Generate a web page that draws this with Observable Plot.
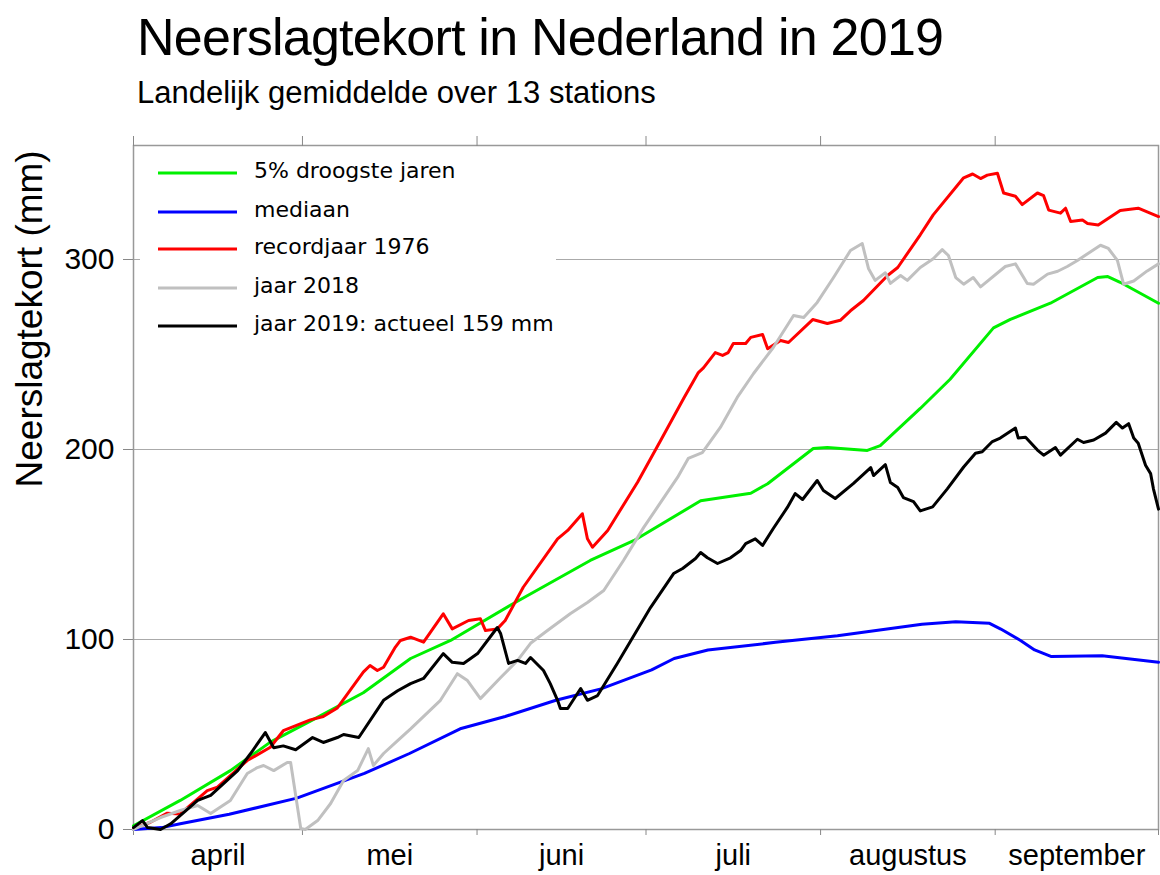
<!DOCTYPE html>
<html><head><meta charset="utf-8">
<script src="https://cdn.jsdelivr.net/npm/d3@7"></script>
<script src="https://cdn.jsdelivr.net/npm/@observablehq/plot@0.6"></script>
<style>
body{margin:0;background:#fff;}
#wrap{position:relative;width:1160px;height:875px;overflow:hidden;font-family:"Liberation Sans",Arial,sans-serif;color:#000;}
#title{position:absolute;left:137px;top:11px;font-size:52px;line-height:52px;letter-spacing:-0.75px;white-space:nowrap;}
#subtitle{position:absolute;left:137px;top:77px;font-size:31px;line-height:31px;white-space:nowrap;}
#chart{position:absolute;left:0;top:120px;}
#legend{position:absolute;left:140px;top:150px;width:416px;height:192px;background:#fff;}
</style></head>
<body><div id="wrap">
<div id="title">Neerslagtekort in Nederland in 2019</div>
<div id="subtitle">Landelijk gemiddelde over 13 stations</div>
<div id="chart"></div>
<div id="legend"></div>
</div>
<script>
// ---- data (days since 1 April 2019, values in mm) ----
const seriesNames = ["5% droogste jaren", "mediaan", "recordjaar 1976", "jaar 2018", "jaar 2019: actueel 159 mm"];
const seriesColors = ["#00f000", "#0000ff", "#ff0000", "#c0c0c0", "#000000"];
const monthNames = ["april", "mei", "juni", "juli", "augustus", "september"];
const monthStartDays = [0, 30, 61, 91, 122, 153];
const lastDay = 182;
const yTicks = [0, 100, 200, 300];

const greenDays = [0, 8.3, 17.2, 24.3, 31.4, 40.8, 49.2, 56.3, 66.9, 81.1, 88.8, 100.7, 109.6, 112.6, 120.7, 123.2, 130.3, 132.6, 139.7, 145, 152.7, 155.7, 162.8, 171.2, 173, 175.2, 182];
const greenVals = [2, 15.3, 31, 46, 57, 72, 90, 99.5, 118, 141.6, 152, 173, 177, 182, 200.5, 201, 199.5, 202, 221.6, 237, 264, 268.5, 277, 290.5, 291, 288, 277];

const blueDays = [0, 5, 8.3, 17, 29, 41, 49, 58, 66, 75, 83, 92, 96, 102, 114, 125, 140, 146, 152, 154, 157.5, 160, 163, 172, 182];
const blueVals = [0, 1, 3, 8, 16.5, 29.5, 40, 53, 59.5, 68, 74, 84, 90, 94.5, 98.5, 102, 108, 109.3, 108.5, 105.5, 99.5, 94.5, 91, 91.4, 88];

const redDays = [0, 3, 6, 8.3, 13.1, 14.9, 20.2, 24.3, 26.6, 31.4, 33.7, 36.2, 40.8, 42, 43.3, 44.4, 46.5, 47.4, 49.2, 51.5, 55, 56.6, 59.5, 61.6, 62.5, 64.6, 66, 69.2, 75.3, 77.1, 79.7, 80.6, 81.5, 84.2, 89.5, 93.6, 97.7, 100.3, 101.2, 103.3, 104.6, 105.6, 106.5, 108.7, 109.6, 111.7, 112.6, 114.9, 116.3, 120.6, 123.2, 125.5, 127.3, 129.6, 133.9, 135.7, 139.7, 142, 147.4, 149, 150.4, 151.6, 153.4, 154.5, 156.6, 157.8, 160.5, 161.6, 162.5, 164.6, 165.5, 166.4, 168.5, 169.4, 171.3, 175.2, 178.4, 182];
const redVals = [0.5, 3.8, 8.6, 8.2, 20.5, 22.3, 36.3, 43.3, 52, 57.7, 59.5, 64, 82.8, 86.3, 83.7, 85.4, 96, 99.5, 101.2, 98.6, 113.5, 105.6, 110, 110.9, 104.7, 105.6, 110, 127.5, 153, 157.4, 166.2, 153, 148.6, 157.4, 182.8, 204.7, 227, 240.5, 243, 251, 249.5, 251, 255.8, 255.8, 259, 260.5, 253, 257.4, 256.3, 268.4, 266.3, 268, 273, 278.4, 291.6, 295.8, 313, 323.5, 343, 345, 342.6, 344.4, 345.4, 335, 333.3, 328.9, 335, 333.6, 326, 324.4, 327, 320, 320.8, 319, 318.2, 325.8, 327, 322.6];

const grayDays = [0, 0.7, 4.8, 8.3, 11.4, 13.7, 17.2, 20.2, 22, 23.1, 24.9, 27.3, 27.9, 29.7, 30.5, 32.7, 35, 37.3, 39.8, 41.7, 42.6, 44.4, 46.9, 49.2, 54.5, 57.5, 59.3, 61.6, 65.2, 68.2, 70.5, 73.5, 77.6, 80.6, 83.5, 87, 90.6, 93, 96.6, 98.5, 101, 104.2, 107.2, 110.1, 113.6, 117.2, 119, 121.4, 124.3, 127.3, 129.4, 130.5, 131.7, 133.5, 134.4, 136.2, 137.4, 139.7, 142, 143.6, 144.7, 146, 147.4, 149.1, 150.4, 154.8, 156.6, 158.7, 159.8, 162.3, 164.1, 165.8, 167.6, 171.7, 173.1, 174.7, 175.8, 177.6, 180, 182];
const grayVals = [0, 1, 6.3, 10, 12.6, 8.4, 15.3, 29.5, 32.6, 33.7, 31, 35.3, 35.3, 0.5, 0, 4.7, 13.7, 25.8, 31, 42.6, 33.7, 40, 46.8, 53, 68, 82, 78.4, 68.9, 80, 89, 98, 104.7, 113.7, 119.5, 125.8, 141.6, 159, 169.5, 185.3, 195.3, 198.4, 211.6, 227.4, 240, 253.7, 270.5, 269.5, 277.4, 290.5, 304.7, 308.4, 295.3, 289, 293, 287.4, 291.6, 289, 295.8, 300.4, 305.2, 302.1, 290.5, 287, 290.5, 285.6, 296.3, 297.7, 287.4, 287, 292.3, 293.8, 296.3, 299.5, 307.5, 305.8, 299.5, 287, 288.7, 294, 297.7];

const blackDays = [0, 1.6, 2.5, 4.8, 6.6, 11.4, 13.7, 18.5, 20.8, 23.4, 24.9, 26.6, 28.8, 31.8, 33.7, 36.2, 37.3, 40, 44.4, 46.9, 49.2, 51.5, 55, 56.6, 58.6, 61.1, 64.6, 65.2, 66.6, 68.2, 69.6, 70.5, 72.8, 74, 75.3, 75.8, 77.1, 79.4, 80.6, 82.4, 85.9, 91.8, 95.9, 97.5, 99.8, 100.7, 101.9, 103.7, 106, 107.8, 108.7, 110.4, 111.7, 113.6, 116.1, 117.5, 118.8, 121.4, 122.5, 124.6, 127.8, 130.9, 131.4, 133.5, 134.4, 135.7, 136.7, 138.5, 139.7, 141.9, 144.5, 147.4, 149.5, 150.7, 152.5, 153.9, 156.6, 157.1, 158.4, 160.5, 161.6, 163.7, 164.6, 167.6, 168.7, 170.5, 172.6, 174.5, 175.6, 176.7, 177.6, 178.4, 179.7, 180.6, 181.1, 182];
const blackVals = [1, 4.7, 1, 0, 3, 15.3, 18, 31, 40, 51, 43, 44, 42, 48.4, 45.8, 48.4, 50, 48.4, 68, 73, 76.8, 79.5, 92.6, 88, 87.4, 92.6, 106.3, 103, 87.4, 89, 87.4, 90.5, 83.7, 76.8, 68, 63.7, 63.7, 74.2, 68, 70.5, 87.4, 116.8, 134.7, 137.4, 142.6, 145.8, 143, 140, 143, 146.8, 150.5, 153, 149.5, 158.4, 169.5, 176.8, 173.7, 183.7, 178.4, 174.2, 182, 190.5, 186.3, 192, 182.6, 180, 174.7, 172.6, 167.7, 169.8, 179.3, 190.8, 198, 198.8, 204.2, 206, 211.3, 206, 206.5, 199.7, 197, 201, 197, 205.4, 203.7, 205, 208.6, 214.3, 211.3, 213.6, 206, 203.3, 191.7, 187.3, 179.3, 168.6];

// ---- build ----
const start = Date.UTC(2019, 3, 1);
const toDate = d => new Date(start + d * 864e5);
const allDays = [greenDays, blueDays, redDays, grayDays, blackDays];
const allVals = [greenVals, blueVals, redVals, grayVals, blackVals];
const series = allDays.map((days, k) => days.map((d, i) => ({date: toDate(d), value: allVals[k][i]})));

const monthStarts = monthStartDays.map(toDate);
const monthMids = monthStartDays.map((d, i) => toDate((d + (i + 1 < monthStartDays.length ? monthStartDays[i + 1] : lastDay)) / 2));

const chart = Plot.plot({
  width: 1160, height: 755,
  marginTop: 25, marginBottom: 46, marginLeft: 133, marginRight: 2,
  style: {fontFamily: "Liberation Sans, Arial, sans-serif", background: "#fff", color: "#000", overflow: "visible"},
  x: {type: "utc", domain: [toDate(0), toDate(lastDay)]},
  y: {domain: [0, 360]},
  marks: [
    Plot.gridY(yTicks.slice(1), {stroke: "#aaa", strokeOpacity: 1, strokeWidth: 1}),
    Plot.frame({stroke: "#999", strokeWidth: 1.5}),
    Plot.axisY(yTicks, {tickSize: 10, tickPadding: 9, stroke: "#888", fontSize: 30, label: null}),
    Plot.axisX([...monthStarts, toDate(lastDay)], {anchor: "bottom", tickSize: 6, stroke: "#888", tickFormat: () => "", label: null}),
    Plot.axisX(monthStarts, {anchor: "top", tickSize: 10, stroke: "#888", tickFormat: () => "", label: null}),
    Plot.axisX(monthMids, {anchor: "bottom", tickSize: 0, tickPadding: 15, fontSize: 29, label: null,
      tickFormat: d => monthNames[d.getUTCMonth() - 3]}),
    Plot.text(["Neerslagtekort (mm)"], {text: d => d, frameAnchor: "left", rotate: -90, dx: -103, fontSize: 37, lineAnchor: "middle"}),
    ...series.map((s, k) => Plot.line(s, {x: "date", y: "value", stroke: seriesColors[k], strokeWidth: 3, strokeLinejoin: "round"}))
  ]
});
document.getElementById("chart").appendChild(chart);

// legend overlay
const lg = d3.select("#legend").append("svg").attr("width", 416).attr("height", 192);
const rowY = [23, 62, 99, 138, 176];
seriesNames.forEach((n, i) => {
  lg.append("line").attr("x1", 18).attr("x2", 97).attr("y1", rowY[i]).attr("y2", rowY[i])
    .attr("stroke", seriesColors[i]).attr("stroke-width", 3);
  lg.append("text").attr("x", 114).attr("y", rowY[i] + 5).text(n)
    .attr("font-family", "DejaVu Sans, sans-serif").attr("font-size", 22).attr("fill", "#000");
});
</script>
</body></html>
